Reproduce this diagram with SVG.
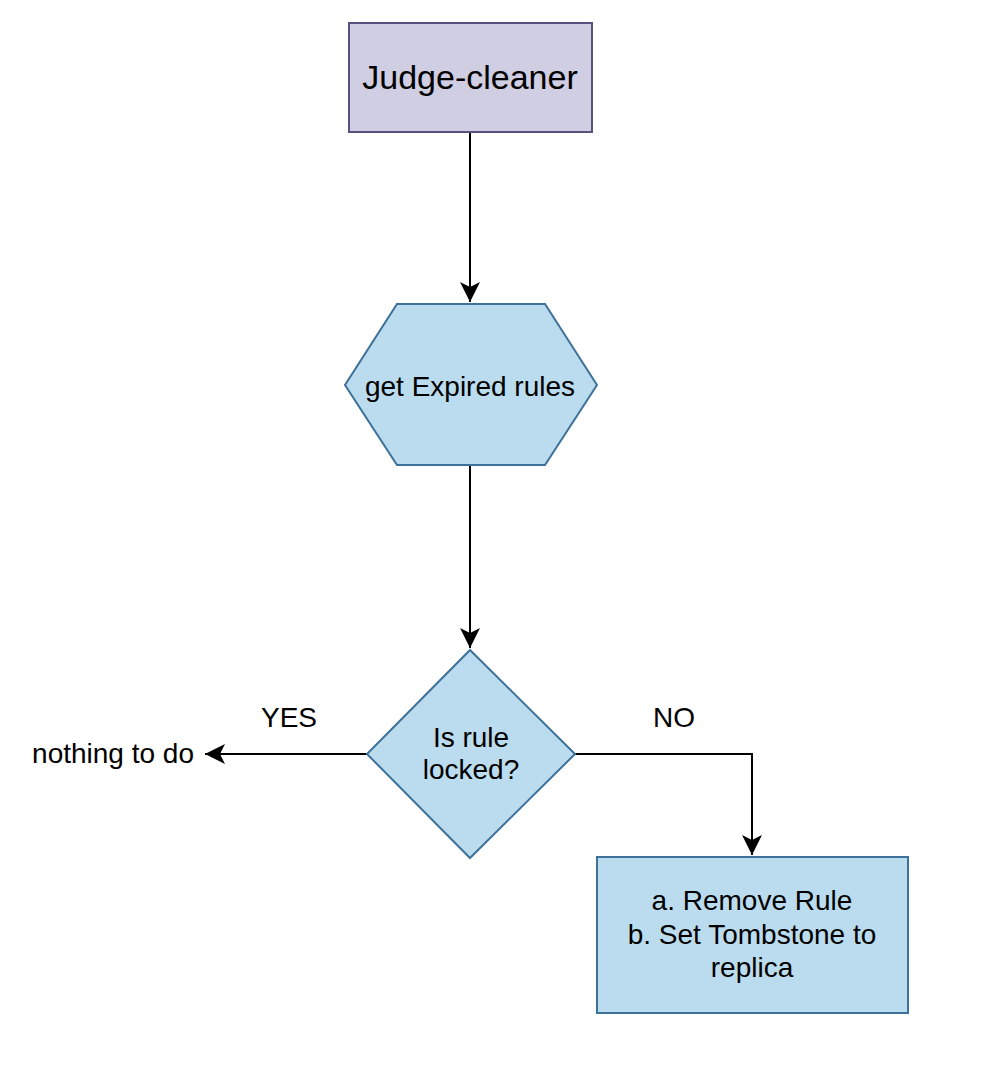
<svg xmlns="http://www.w3.org/2000/svg" width="988" height="1080" viewBox="0 0 988 1080">
<style>
.lbl{font-family:"Liberation Sans",Arial,Helvetica,sans-serif;font-size:28px;fill:#000}
.big{font-size:34px}
.blue{fill:#bbdcee;stroke:#3d7199;stroke-width:2}
.purple{fill:#d0cee2;stroke:#56517e;stroke-width:2}
.edge{fill:none;stroke:#000;stroke-width:2}
</style>
<defs>
<marker id="arr" markerUnits="userSpaceOnUse" markerWidth="24" markerHeight="24" viewBox="0 0 24 24" refX="22" refY="12" orient="auto">
<path d="M2,2 L22,12 L2,22 L7,12 Z" fill="#000"/>
</marker>
</defs>
<rect width="988" height="1080" fill="#fff"/>
<g id="connectors">
<path class="edge" d="M470,132 L470,302" marker-end="url(#arr)"/>
<path class="edge" d="M470,465 L470,648" marker-end="url(#arr)"/>
<path class="edge" d="M367,754 L205,754" marker-end="url(#arr)"/>
<path class="edge" d="M575,754 L752,754 L752,855" marker-end="url(#arr)"/>
<text class="lbl" x="289" y="727" text-anchor="middle">YES</text>
<text class="lbl" x="674" y="727" text-anchor="middle">NO</text>
</g>
<g id="judge-cleaner">
<rect class="purple" x="349" y="23" width="243" height="109"/>
<text class="lbl big" x="470" y="89" text-anchor="middle">Judge-cleaner</text>
</g>
<g id="get-expired">
<polygon class="blue" points="397,304 545,304 597,385 545,465 397,465 345,385"/>
<text class="lbl" x="470" y="396" text-anchor="middle">get Expired rules</text>
</g>
<g id="is-locked">
<polygon class="blue" points="470,650 575,754 470,858 367,754"/>
<text class="lbl" x="471" y="747" text-anchor="middle">Is rule</text>
<text class="lbl" x="471" y="779" text-anchor="middle">locked?</text>
</g>
<g id="nothing">
<text class="lbl" x="194" y="763" text-anchor="end">nothing to do</text>
</g>
<g id="remove">
<rect class="blue" x="597" y="857" width="311" height="156"/>
<text class="lbl" x="752" y="910" text-anchor="middle">a. Remove Rule</text>
<text class="lbl" x="752" y="944" text-anchor="middle">b. Set Tombstone to</text>
<text class="lbl" x="752" y="977" text-anchor="middle">replica</text>
</g>
</svg>
